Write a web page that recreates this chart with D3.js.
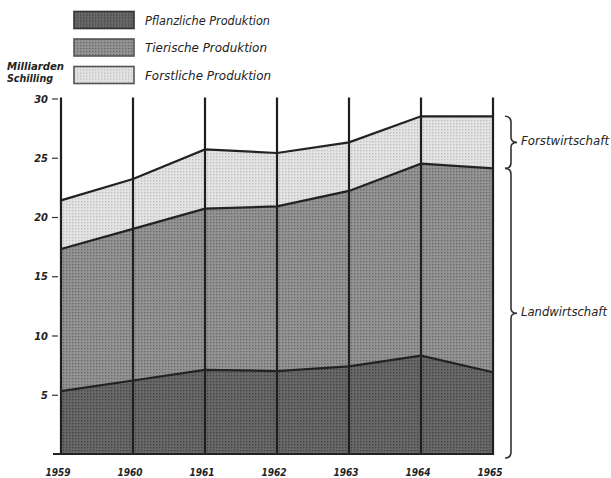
<!DOCTYPE html>
<html><head><meta charset="utf-8">
<script src="https://cdn.jsdelivr.net/npm/d3@7"></script>
<style>
body{margin:0;background:#fff;}
text{font-family:"Liberation Sans Narrow","DejaVu Sans Condensed","Liberation Sans",sans-serif;font-style:italic;fill:#222;}
</style></head>
<body><svg id="c" width="611" height="478"></svg>
<script>
const years = [1959, 1960, 1961, 1962, 1963, 1964, 1965];
const pflanzliche = [5.3, 6.2, 7.1, 7.0, 7.4, 8.3, 6.9];
const tierische = [12.0, 12.8, 13.6, 13.9, 14.8, 16.2, 17.2];
const forstliche = [4.1, 4.2, 5.0, 4.5, 4.1, 4.0, 4.4];
const seriesNames = ["Pflanzliche Produktion", "Tierische Produktion", "Forstliche Produktion"];
const yTicks = [5, 10, 15, 20, 25, 30];
const unitLabel = ["Milliarden", "Schilling"];
const braceLabels = ["Forstwirtschaft", "Landwirtschaft"];

const svg = d3.select("#c");
const x = d3.scaleLinear().domain([1959, 1965]).range([61, 493]);
const y = d3.scaleLinear().domain([0, 30]).range([454, 98.5]);

const fills = [
  {id:"p0", base:"#686868", dot:"#3f3f3f"},
  {id:"p1", base:"#939393", dot:"#666666"},
  {id:"p2", base:"#e3e3e3", dot:"#bdbdbd"}
];
const defs = svg.append("defs");
fills.forEach(f => {
  const p = defs.append("pattern").attr("id", f.id).attr("width", 3).attr("height", 3)
    .attr("patternUnits", "userSpaceOnUse");
  p.append("rect").attr("width", 3).attr("height", 3).attr("fill", f.base);
  p.append("rect").attr("x", 0).attr("y", 0).attr("width", 1.3).attr("height", 1.3).attr("fill", f.dot);
});

const table = years.map((yr, i) => ({year: yr, p: pflanzliche[i], t: tierische[i], f: forstliche[i]}));
const stack = d3.stack().keys(["p", "t", "f"])(table);

const area = d3.area().x(d => x(d.data.year)).y0(d => y(d[0])).y1(d => y(d[1]));
const line = d3.line().x(d => x(d.data.year)).y(d => y(d[1]));

svg.selectAll("path.area").data(stack).join("path").attr("class", "area")
  .attr("d", area).attr("fill", (d, i) => `url(#${fills[i].id})`);

// vertical year lines
svg.selectAll("line.v").data(years).join("line").attr("class", "v")
  .attr("x1", d => x(d)).attr("x2", d => x(d)).attr("y1", y(0) + 1).attr("y2", y(30) - 1)
  .attr("stroke", "#1e1e1e").attr("stroke-width", 2.2);

// boundary lines
svg.selectAll("path.bd").data(stack).join("path").attr("class", "bd")
  .attr("d", line).attr("fill", "none").attr("stroke", "#222").attr("stroke-width", 2.2);

// baseline
svg.append("line").attr("x1", x(1959) - 8).attr("x2", x(1965)).attr("y1", y(0)).attr("y2", y(0))
  .attr("stroke", "#222").attr("stroke-width", 2.2);

// y axis
const ax = svg.append("g").attr("transform", "translate(58,0)")
  .call(d3.axisLeft(y).tickValues(yTicks).tickSize(6).tickPadding(4));
ax.select(".domain").remove();
ax.selectAll(".tick line").attr("stroke", "#333").attr("stroke-width", 1.2);
ax.selectAll(".tick text").attr("font-size", 11).attr("font-weight", "bold")
  .style("font-family", '"Liberation Sans Narrow","DejaVu Sans Condensed","Liberation Sans",sans-serif')
  .style("font-style", "italic").attr("fill", "#222");

// unit label
svg.selectAll("text.unit").data(unitLabel).join("text").attr("class", "unit")
  .attr("x", 7).attr("y", (d, i) => 70 + i * 12).attr("font-size", 11).attr("font-weight", "bold")
  .attr("textLength", (d, i) => i === 0 ? 57 : 46).attr("lengthAdjust", "spacingAndGlyphs")
  .text(d => d);

// year labels
svg.selectAll("text.yr").data(years).join("text").attr("class", "yr")
  .attr("x", d => x(d) - 3).attr("y", 476).attr("text-anchor", "middle")
  .attr("font-size", 11).attr("font-weight", "bold")
  .attr("textLength", 25).attr("lengthAdjust", "spacingAndGlyphs").text(d => d);

// legend
const lg = svg.selectAll("g.lg").data(seriesNames).join("g").attr("class", "lg")
  .attr("transform", (d, i) => `translate(74,${11.5 + i * 27.5})`);
lg.append("rect").attr("width", 60).attr("height", 17)
  .attr("fill", (d, i) => `url(#${fills[i].id})`).attr("stroke", (d, i) => i === 0 ? "#333" : "#555").attr("stroke-width", 1.6);
lg.append("text").attr("x", 71).attr("y", 13).attr("font-size", 13)
  .attr("textLength", (d, i) => [125, 122, 126][i]).attr("lengthAdjust", "spacingAndGlyphs")
  .text(d => d);

// braces
function brace(x0, x1, x2, y1, y2) {
  const ym = (y1 + y2) / 2;
  return `M${x0},${y1} Q${x1},${y1} ${x1},${y1 + 6} L${x1},${ym - 5} Q${x1},${ym} ${x2},${ym} ` +
         `Q${x1},${ym} ${x1},${ym + 5} L${x1},${y2 - 6} Q${x1},${y2} ${x0},${y2}`;
}
const last = stack.map(s => s[s.length - 1]);
const braces = [
  {y1: y(last[2][1]), y2: y(last[2][0]), label: braceLabels[0], w: 88},
  {y1: y(last[1][1]), y2: y(0) + 4, label: braceLabels[1], w: 86}
];
braces.forEach(b => {
  svg.append("path").attr("d", brace(505, 511, 517, b.y1, b.y2))
    .attr("fill", "none").attr("stroke", "#333").attr("stroke-width", 1.6);
  svg.append("text").attr("x", 521).attr("y", (b.y1 + b.y2) / 2 + 3).attr("font-size", 13)
    .attr("textLength", b.w).attr("lengthAdjust", "spacingAndGlyphs").text(b.label);
});
</script></body></html>
